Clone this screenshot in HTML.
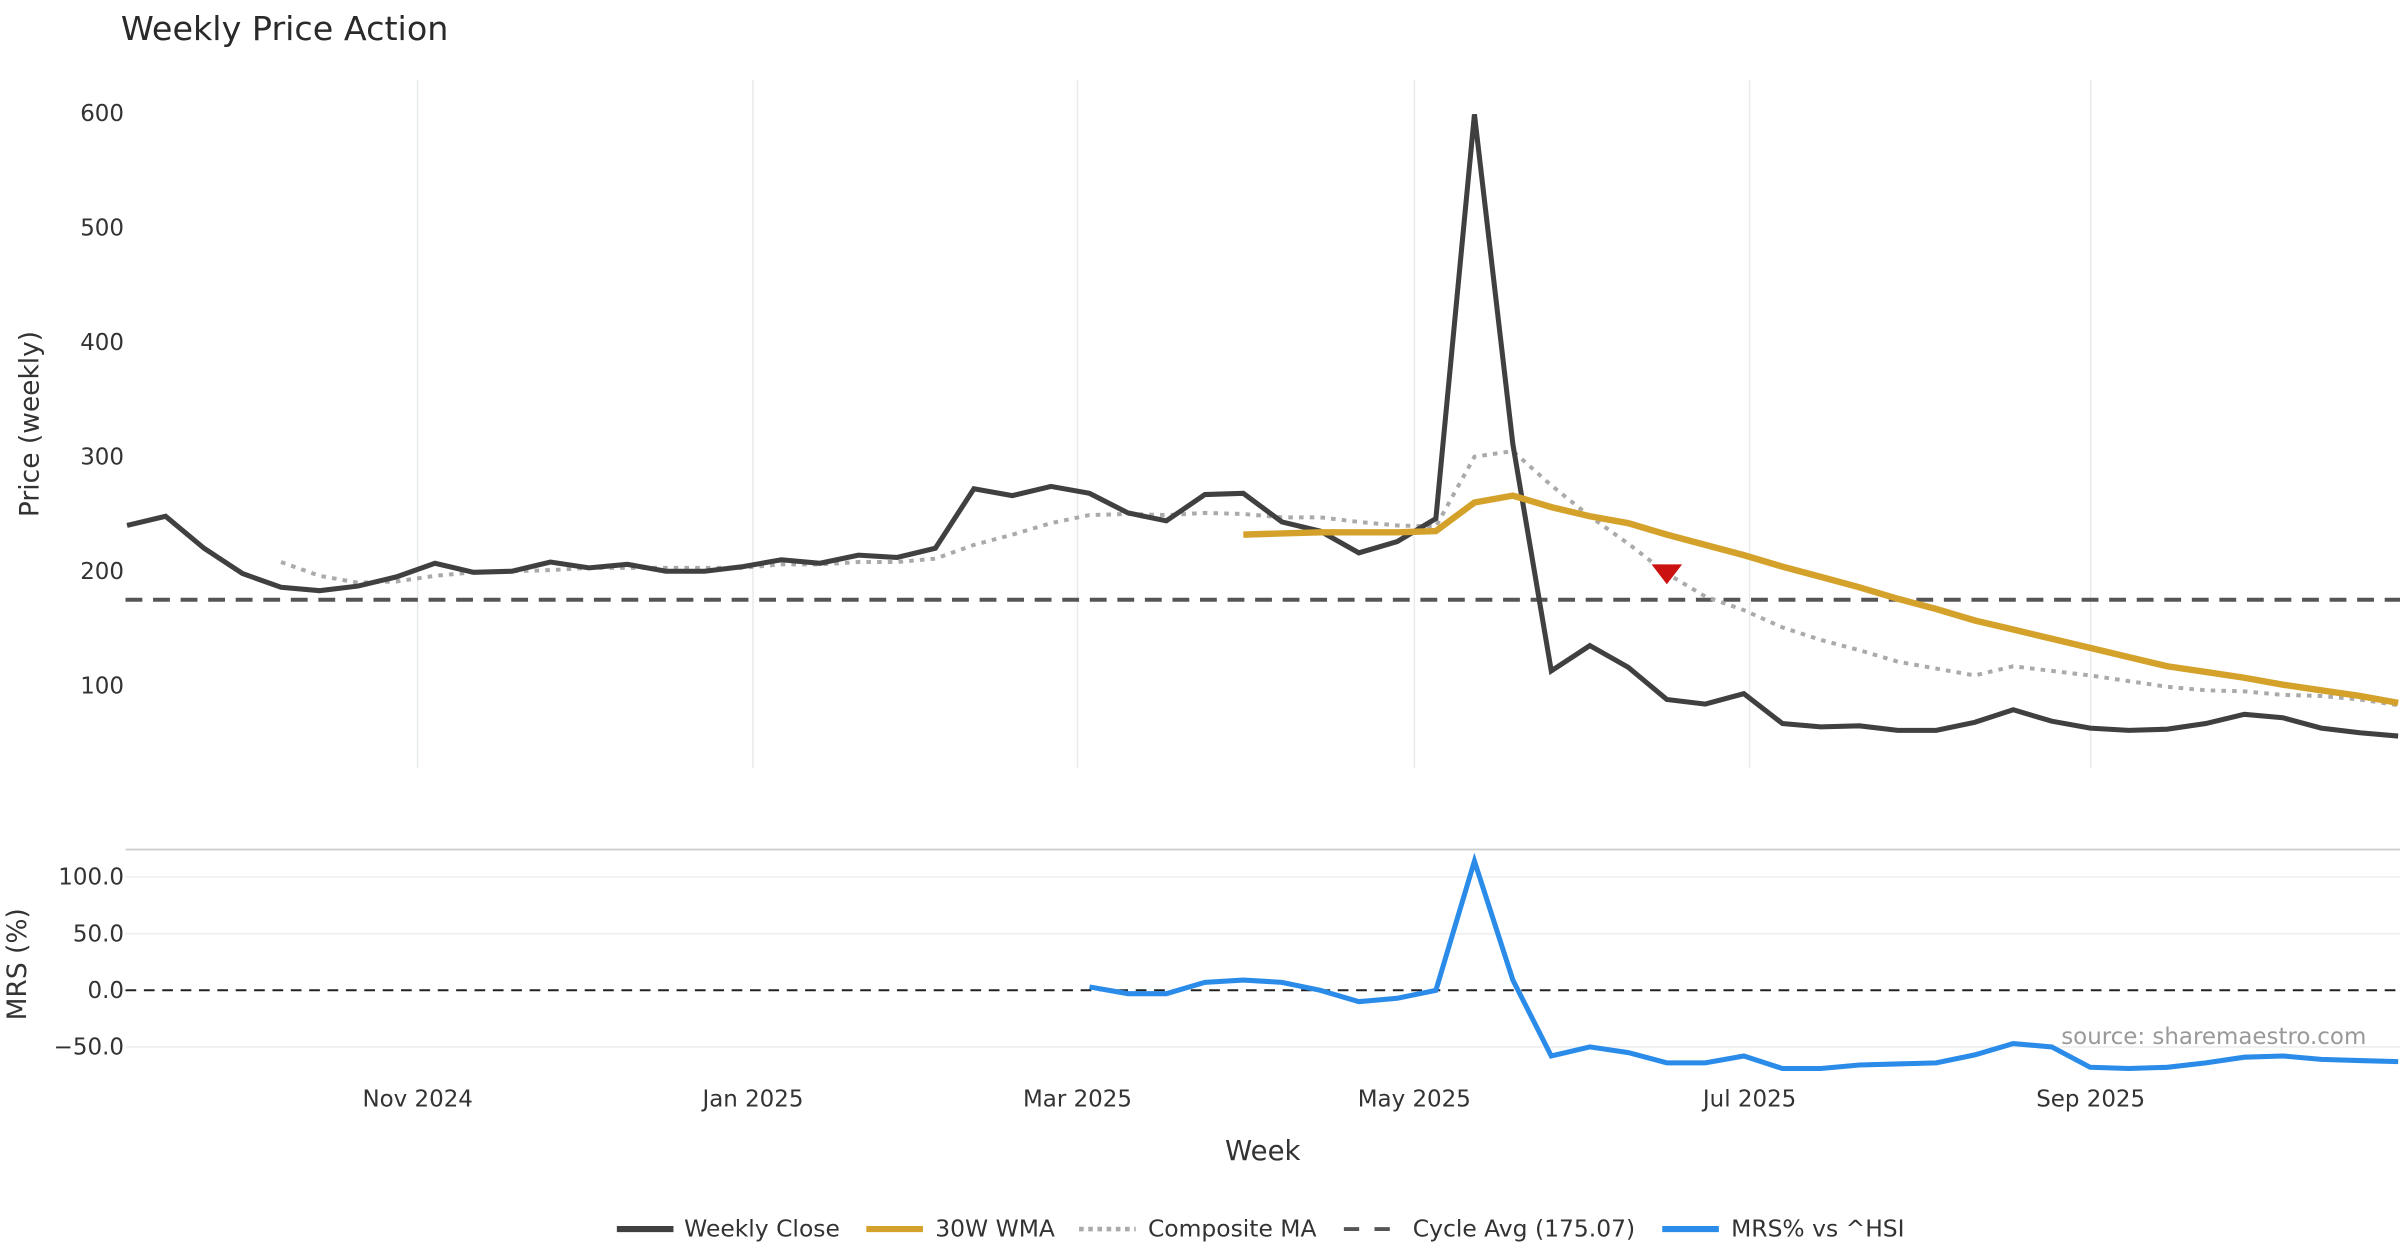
<!DOCTYPE html>
<html><head><meta charset="utf-8"><style>
html,body{margin:0;padding:0;background:#fff;}
svg{display:block;font-family:"DejaVu Sans","Liberation Sans",sans-serif;}
</style></head><body>
<svg id="chart" width="2400" height="1260" viewBox="0 0 1568 823.2" xmlns="http://www.w3.org/2000/svg">
<text x="79" y="26" font-size="21.8" fill="#2a2a2a">Weekly Price Action</text>
<text transform="translate(25,277) rotate(-90)" text-anchor="middle" font-size="17.3" fill="#333">Price (weekly)</text>
<text transform="translate(17,630) rotate(-90)" text-anchor="middle" font-size="17.3" fill="#333">MRS (%)</text>
<text x="825" y="758" text-anchor="middle" font-size="18" fill="#333">Week</text>
<text x="1546" y="682" text-anchor="end" font-size="15" fill="#999">source: sharemaestro.com</text>
<line x1="82" x2="1568" y1="555" y2="555" stroke="#ccc" stroke-width="1.2"/>
<g id="grid"></g><g id="marks"></g><g id="legend"></g>
</svg>
<script>
const closeVals=[240,248,220,198,186,183,187,195,207,199,200,208,203,206,200,200,204,210,207,214,212,220,272,266,274,268,251,244,267,268,243,235,216,226,246,599,311,113,135,116,88,84,93,67,64,65,61,61,68,79,69,63,61,62,67,75,72,63,59,56];
const compositeStart=4;
const compositeVals=[208,196,190,191,196,199,200,201,203,203,203,203,203,206,206,208,208,211,223,232,242,249,250,249,251,250,247,247,243,240,239,300,305,275,248,224,198,178,166,151,140,131,121,115,109,117,113,109,104,99,96,95,92,91,88,83];
const wmaStart=29;
const wmaVals=[232,233,234,234,234,235,260,266,256,248,242,232,223,214,204,195,186,176,167,157,149,141,133,125,117,112,107,101,96,91,85];
const mrsStart=25;
const mrsVals=[3,-3,-3,7,9,7,0,-10,-7,0,114,9,-58,-50,-55,-64,-64,-58,-69,-69,-66,-65,-64,-57,-47,-50,-68,-69,-68,-64,-59,-58,-61,-62,-63];
const cycleAvg=175.07;
const signalIndex=40;
const priceTicks=[100,200,300,400,500,600];
const mrsTicks=[-50,0,50,100];
const monthLabels=["Nov 2024","Jan 2025","Mar 2025","May 2025","Jul 2025","Sep 2025"];
const monthWeekPos=[7.55,16.26,24.69,33.44,42.15,51.01];

const NS="http://www.w3.org/2000/svg";
const X=i=>83+i*25.15;
const YP=v=>448-(v-100)*0.748;
const YM=v=>647-0.74*v;
function mk(parent,tag,attrs){const e=document.createElementNS(NS,tag);for(const k in attrs)e.setAttribute(k,attrs[k]);document.getElementById(parent).appendChild(e);return e;}
function pts(vals,start,Y){return vals.map((v,i)=>X(i+start).toFixed(1)+","+Y(v).toFixed(1)).join(" ");}

monthLabels.forEach((m,k)=>{
  const x=X(monthWeekPos[k]);
  const g=mk("grid","line",{x1:x,x2:x,y1:52,y2:502,stroke:"#e8ebee","stroke-width":1});
  
  
  const t=mk("grid","text",{x:x,y:723,"text-anchor":"middle","font-size":15,fill:"#333"});
  t.textContent=m;
  
  
});
priceTicks.forEach(v=>{
  const t=mk("grid","text",{x:81,y:YP(v)+5,"text-anchor":"end","font-size":15,fill:"#333"});
  t.textContent=v;
  
  
});
mrsTicks.forEach(v=>{
  if(v!==0){const l=mk("grid","line",{x1:82,x2:1568,y1:YM(v),y2:YM(v),stroke:"#eceef0","stroke-width":1});
  
  }
  const t=mk("grid","text",{x:81,y:YM(v)+5,"text-anchor":"end","font-size":15,fill:"#333"});
  t.textContent=(v<0?"\u2212"+Math.abs(v):v).toString().replace(/(\d+)$/,"$1.0");
  
  
});
const zl=mk("marks","line",{x1:82,x2:1568,y1:YM(0),y2:YM(0),stroke:"#222","stroke-width":1.3,"stroke-dasharray":"7,5"});


const cy=mk("marks","line",{x1:82,x2:1568,y1:YP(cycleAvg),y2:YP(cycleAvg),stroke:"#555","stroke-width":2.6,"stroke-dasharray":"11,7"});


const cm=mk("marks","polyline",{points:pts(compositeVals,compositeStart,YP),fill:"none",stroke:"#aaa","stroke-width":2.6,"stroke-dasharray":"3,4"});


const cl=mk("marks","polyline",{points:pts(closeVals,0,YP),fill:"none",stroke:"#404040","stroke-width":3.3,"stroke-linejoin":"miter"});


const wm=mk("marks","polyline",{points:pts(wmaVals,wmaStart,YP),fill:"none",stroke:"#d4a22a","stroke-width":4.2});


const sx=X(signalIndex),sy=YP(compositeVals[signalIndex-compositeStart]);
const tri=mk("marks","polygon",{points:`${sx-10},${sy-6} ${sx+10},${sy-6} ${sx},${sy+7}`,fill:"#cc1111"});


const ml=mk("marks","polyline",{points:pts(mrsVals,mrsStart,YM),fill:"none",stroke:"#2a8ce8","stroke-width":3.3});



const leg=[["Weekly Close",403,447,{stroke:"#404040","stroke-width":4}],["30W WMA",566,611,{stroke:"#d4a22a","stroke-width":4}],["Composite MA",705,750,{stroke:"#aaa","stroke-width":3,"stroke-dasharray":"3,3"}],["Cycle Avg (175.07)",878,923,{stroke:"#555","stroke-width":2.5,"stroke-dasharray":"10,10"}],["MRS% vs ^HSI",1086,1131,{stroke:"#2a8ce8","stroke-width":4}]];
leg.forEach(([lab,x0,tx,st])=>{
  const l=mk("legend","line",Object.assign({x1:x0,x2:x0+37,y1:803,y2:803},st));
  
  
  const t=mk("legend","text",{x:tx,y:808,"font-size":15.3,fill:"#333"});
  t.textContent=lab;
  
  
});
</script>
</body></html>
